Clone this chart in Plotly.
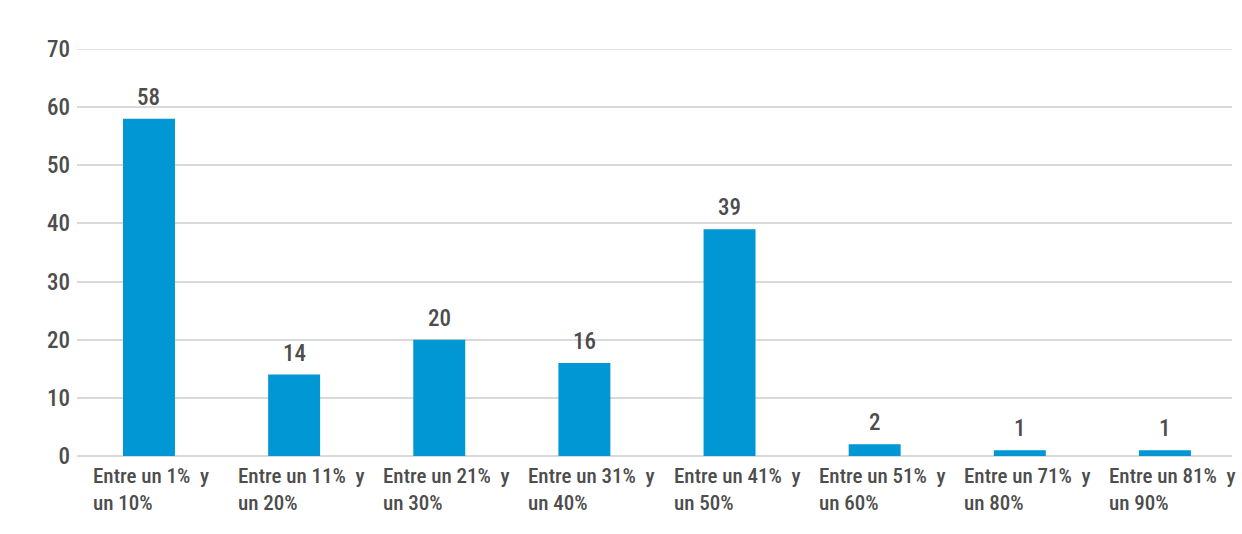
import plotly.graph_objects as go

categories = [
    "Entre un 1%\u00a0 y<br>un 10%",
    "Entre un 11%\u00a0 y<br>un 20%",
    "Entre un 21%\u00a0 y<br>un 30%",
    "Entre un 31%\u00a0 y<br>un 40%",
    "Entre un 41%\u00a0 y<br>un 50%",
    "Entre un 51%\u00a0 y<br>un 60%",
    "Entre un 71%\u00a0 y<br>un 80%",
    "Entre un 81%\u00a0 y<br>un 90%",
]
values = [58, 14, 20, 16, 39, 2, 1, 1]
y_ticks = [0, 10, 20, 30, 40, 50, 60, 70]

FONT = "Roboto Condensed, Liberation Sans Narrow, DejaVu Sans Condensed, sans-serif"
TEXT_COLOR = "#4d4d4d"
BAR_COLOR = "#0097d4"
GRID_COLOR = "#d9d9d9"
WEIGHT = 500

fig = go.Figure(
    go.Bar(
        x=categories,
        y=values,
        marker=dict(color=BAR_COLOR, line=dict(width=0)),
        width=0.358,
        hoverinfo="x+y",
    )
)

# Value labels above the bars
for cat, v in zip(categories, values):
    fig.add_annotation(
        x=cat, xref="x", y=v, yref="y",
        text=str(v), showarrow=False,
        xanchor="center", yanchor="bottom", yshift=6,
        font=dict(family=FONT, size=23, color=TEXT_COLOR, weight=WEIGHT),
    )

# Category labels, left-aligned under each bar
for cat in categories:
    fig.add_annotation(
        x=cat, xref="x", y=0, yref="paper",
        text=cat, showarrow=False,
        xanchor="left", yanchor="top", align="left",
        xshift=-58, yshift=-6,
        font=dict(family=FONT, size=21, color=TEXT_COLOR, weight=WEIGHT),
    )

# Top gridline at the range edge
fig.add_shape(
    type="line", xref="paper", yref="y", x0=0, x1=1, y0=70, y1=70,
    line=dict(color=GRID_COLOR, width=1.5), layer="below",
)

fig.update_layout(
    width=1242, height=534,
    margin=dict(l=77, r=10, t=49, b=78),
    paper_bgcolor="white", plot_bgcolor="white",
    showlegend=False,
)
fig.update_xaxes(
    range=[-0.496, 7.462],
    showticklabels=False, showgrid=False, showline=False, zeroline=False,
)
fig.update_yaxes(
    range=[0, 70], tickvals=y_ticks,
    showgrid=True, gridcolor=GRID_COLOR, gridwidth=1.5,
    zeroline=True, zerolinecolor=GRID_COLOR, zerolinewidth=1.5,
    showline=False, ticks="",
    tickfont=dict(family=FONT, size=23, color=TEXT_COLOR, weight=WEIGHT),
    ticklabelstandoff=6,
)

fig.write_html("out.html")
